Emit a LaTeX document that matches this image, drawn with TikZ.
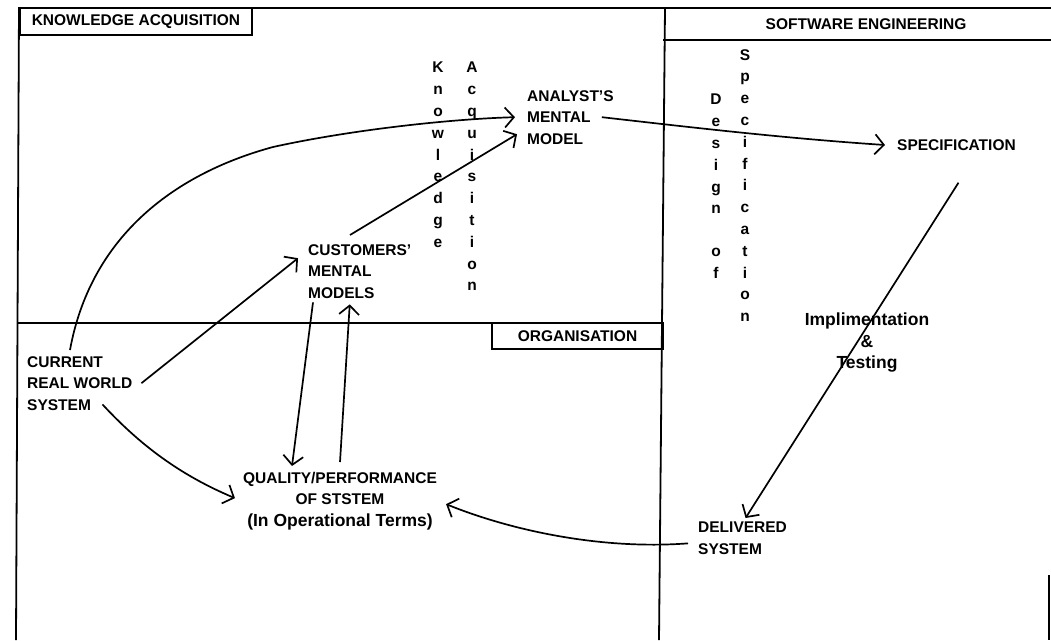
\documentclass[tikz,border=0pt]{standalone}
\usepackage{fontspec}
\setmainfont{Liberation Sans}
\usetikzlibrary{arrows.meta,calc}
\begin{document}
\begin{tikzpicture}[x=1pt,y=-1pt,
  lbl/.style={font=\fontsize{15.5}{21.5}\selectfont\bfseries, inner sep=0pt},
  vert/.style={inner sep=0pt, align=center, anchor=north, font=\fontsize{15.5}{21.8}\selectfont\bfseries},
  frame/.style={line width=1.8pt},
  boxed/.style={lbl, draw, line width=1.8pt},
  arr/.style={line width=1.7pt, -{Straight Barb[length=9pt,width=20pt,line width=1.7pt]}},
]
\useasboundingbox (0,0) rectangle (1051,640);
% frame
\draw[frame] (18,8) -- (1051,8);
\draw[frame] (19,8) -- (16,640);
\draw[frame] (665,8) -- (659,640);
\draw[frame] (18,323) -- (663,323);
\draw[frame] (663,40) -- (1051,40);
\draw[frame] (1049,575) -- (1049,640);
% headers
\node[boxed, minimum width=232pt, minimum height=27pt] (ka) at (136,21.5) {KNOWLEDGE ACQUISITION};
\node[lbl] (se) at (866,24) {SOFTWARE ENGINEERING};
\node[boxed, minimum width=171pt, minimum height=26pt] (org) at (577.5,336) {ORGANISATION};
% vertical labels
\node[vert] (know) at (438,62) {K\\n\\o\\w\\l\\e\\d\\g\\e};
\node[vert] (acq) at (472,62) {A\\c\\q\\u\\i\\s\\i\\t\\i\\o\\n};
\node[vert] (des) at (716,94) {D\\e\\s\\i\\g\\n\\[21pt]o\\f};
\node[vert] (spc) at (745,49) {S\\p\\e\\c\\i\\f\\i\\c\\a\\t\\i\\o\\n};
% main nodes
\node[lbl, align=left, anchor=north west] (amm) at (527,90) {ANALYST'S\\MENTAL\\MODEL};
\node[lbl, align=left, anchor=north west] (cmm) at (308,244) {CUSTOMERS'\\MENTAL\\MODELS};
\node[lbl, align=left, anchor=north west] (crws) at (27,356) {CURRENT\\REAL WORLD\\SYSTEM};
\node[lbl, align=center, anchor=north] (qps) at (340,472) {QUALITY/PERFORMANCE\\OF STSTEM\\{\fontsize{17.5}{21.5}\selectfont (In Operational Terms)}};
\node[lbl, anchor=west] (spec) at (897,145) {SPECIFICATION};
\node[lbl, align=center, anchor=north, font=\fontsize{17.5}{21.5}\selectfont\bfseries] (impl) at (867,313) {Implimentation\\\&\\Testing};
\node[lbl, align=left, anchor=north west] (del) at (698,522) {DELIVERED\\SYSTEM};
% connectors
\draw[arr] ($(crws.north west)+(43,-6)$) .. controls (90,240) and (170,175) .. (273,147)
  .. controls (350,130) and (450,119) .. ($(amm.west)+(-12,0)$);
\draw[arr] ($(crws.east)+(9,0)$) -- ($(cmm.west)+(-10,-13)$);
\draw[arr] ($(cmm.north west)+(42,-9)$) -- ($(amm.west)+(-10,17)$);
\draw[arr] ($(crws.south east)+(-30,-6)$) .. controls (140,445) and (180,475) .. ($(qps.west)+(-8,-3)$);
\draw[arr] ($(cmm.south west)+(5,4)$) -- ($(qps.north)+(-48,-6)$);
\draw[arr] ($(qps.north)+(0,-10)$) -- ($(cmm.south)+(-10,6)$);
\draw[arr] ($(amm.east)+(-12,0)$) .. controls (680,126) and (780,138) .. ($(spec.west)+(-12,0)$);
\draw[arr] ($(spec.south)+(2,32)$) -- ($(del.north)+(3,-4)$);
\draw[arr] ($(del.west)+(-10,5)$) .. controls (600,550) and (510,530) .. ($(qps.east)+(9,3)$);
\end{tikzpicture}
\end{document}
